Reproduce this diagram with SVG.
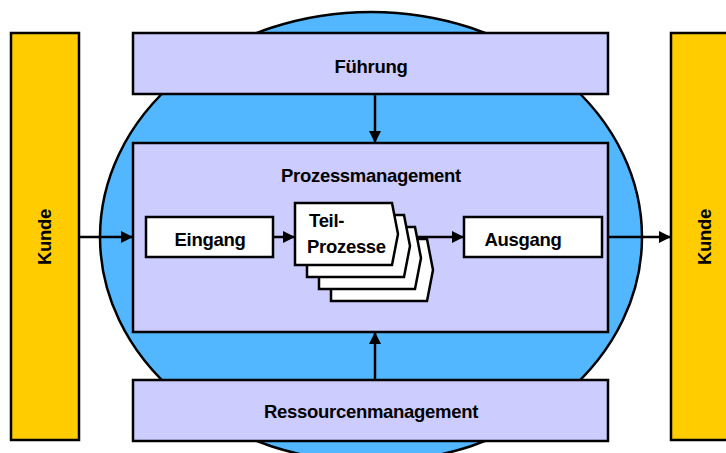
<svg xmlns="http://www.w3.org/2000/svg" width="726" height="453" viewBox="0 0 726 453">
<style>
.ln{stroke:#000;stroke-width:2.5;}
.k{fill:#FFCC00;}
.m{fill:#CCCCFF;}
.w{fill:#FFFFFF;}
.t{font-family:"Liberation Sans",Arial,sans-serif;font-weight:bold;font-size:18.5px;fill:#000;letter-spacing:-0.3px;}
.c{stroke:#000;stroke-width:2.5;fill:none;}
</style>
<defs>
<marker id="ah" viewBox="0 0 12 12" refX="12" refY="6" markerWidth="12" markerHeight="12" markerUnits="userSpaceOnUse" orient="auto">
<path d="M0,0 L12,6 L0,12 Z" fill="#000"/>
</marker>
</defs>
<g id="kreis"><ellipse cx="371" cy="237" rx="271" ry="225" fill="#52B7FF" class="ln"/></g>
<g id="kunde-links"><rect x="11" y="33" width="68" height="407" class="k ln"/><text class="t" text-anchor="middle" transform="translate(51,237) rotate(-90)">Kunde</text></g>
<g id="kunde-rechts"><rect x="671" y="33" width="70" height="407" class="k ln"/><text class="t" text-anchor="middle" transform="translate(711,237) rotate(-90)">Kunde</text></g>
<g id="fuehrung"><rect x="133" y="33" width="475" height="61" class="m ln"/><text class="t" x="371" y="73" text-anchor="middle">Führung</text></g>
<g id="prozessmanagement"><rect x="133" y="143" width="475" height="189" class="m ln"/><text class="t" x="371" y="182" text-anchor="middle">Prozessmanagement</text></g>
<g id="ressourcen"><rect x="133" y="380" width="475" height="61" class="m ln"/><text class="t" x="371" y="418" text-anchor="middle">Ressourcenmanagement</text></g>
<g id="eingang"><rect x="146" y="217" width="127" height="40" class="w ln"/><text class="t" x="210" y="246" text-anchor="middle">Eingang</text></g>
<g id="ausgang"><rect x="464" y="217" width="138" height="40" class="w ln"/><text class="t" x="523" y="246" text-anchor="middle">Ausgang</text></g>
<g id="teilprozesse">
<path d="M331,239 H427 L433,270 L427,301 H331 Z" class="w ln"/>
<path d="M319,227 H415 L421,258 L415,289 H319 Z" class="w ln"/>
<path d="M307,215 H404 L410,246 L404,277 H307 Z" class="w ln"/>
<path d="M295,203 H392 L398,234 L392,265 H295 Z" class="w ln"/>
<text class="t" x="309" y="227">Teil-</text>
<text class="t" x="307" y="253">Prozesse</text>
</g>
<g id="connectors">
<line x1="79" y1="237" x2="133" y2="237" class="c" marker-end="url(#ah)"/>
<line x1="273" y1="237" x2="295" y2="237" class="c" marker-end="url(#ah)"/>
<line x1="417" y1="237" x2="464" y2="237" class="c" marker-end="url(#ah)"/>
<line x1="608" y1="237" x2="671" y2="237" class="c" marker-end="url(#ah)"/>
<line x1="375" y1="94" x2="375" y2="143" class="c" marker-end="url(#ah)"/>
<line x1="375" y1="380" x2="375" y2="332" class="c" marker-end="url(#ah)"/>
</g>
</svg>
